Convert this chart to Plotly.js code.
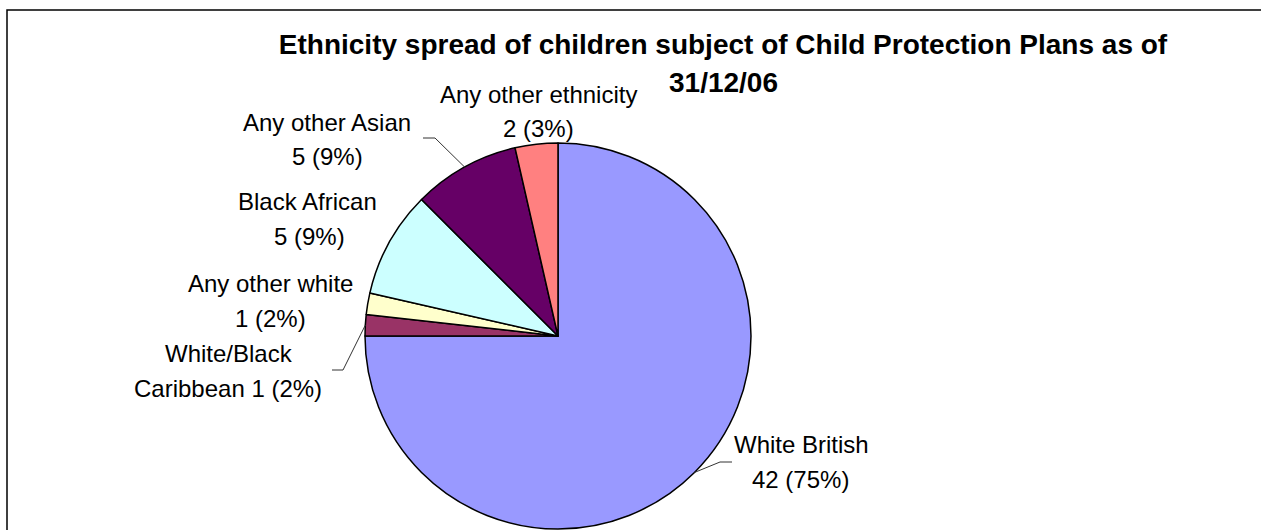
<!DOCTYPE html>
<html>
<head>
<meta charset="utf-8">
<script src="https://cdn.plot.ly/plotly-3.0.1.min.js"></script>
<style>html,body{margin:0;padding:0;background:#fff;}#chart{width:1261px;height:530px;}</style>
</head>
<body>
<div id="chart"></div>
<script>
// ---- data ----
const categories = ["White British", "White/Black Caribbean", "Any other white", "Black African", "Any other Asian", "Any other ethnicity"];
const counts = [42, 1, 1, 5, 5, 2];
const percentLabels = ["75%", "2%", "2%", "9%", "9%", "3%"];
const sliceColors = ["#9999FF", "#993366", "#FFFFCC", "#CCFFFF", "#660066", "#FF8080"];
const titleLine1 = "Ethnicity spread of children subject of Child Protection Plans as of";
const titleLine2 = "31/12/06";

// ---- layout helpers (pixels -> paper) ----
const W = 1261, H = 530;
const px = x => x / W;
const py = y => 1 - y / H;
const cx = 558, cy = 336, R = 193;
const FONT = 'Liberation Sans, Arial, sans-serif';
const LABEL_SIZE = 24, TITLE_SIZE = 28;

// label lines (display form), built from data
const labelLines = [
  [categories[0], counts[0] + " (" + percentLabels[0] + ")"],
  ["White/Black", "Caribbean " + counts[1] + " (" + percentLabels[1] + ")"],
  [categories[2], counts[2] + " (" + percentLabels[2] + ")"],
  [categories[3], counts[3] + " (" + percentLabels[3] + ")"],
  [categories[4], counts[4] + " (" + percentLabels[4] + ")"],
  [categories[5], counts[5] + " (" + percentLabels[5] + ")"]
];
// label placement: [centreX line1, baseline1, centreX line2, baseline2] (pixels)
const labelPos = [
  [801, 453, 800, 488],
  [229, 362, 228, 397],
  [270, 292, 270, 327],
  [307, 210, 309, 245],
  [327, 131, 327, 165],
  [538, 103, 538, 137]
];
// leader line elbows: index -> [elbowX, elbowY, endX]
const leaders = {0: [720, 462, 732], 1: [343, 370, 332], 4: [435, 138, 423]};

const total = counts.reduce((a, b) => a + b, 0);
const shapes = [];
shapes.push({type: 'rect', xref: 'paper', yref: 'paper', x0: px(7), x1: px(1270), y0: py(540), y1: py(10),
  line: {color: '#000', width: 1.5}, fillcolor: 'rgba(0,0,0,0)', layer: 'below'});
let cum = 0;
counts.forEach((v, i) => {
  const mid = (cum + v / 2) / total * 2 * Math.PI;
  cum += v;
  if (leaders[i]) {
    const rx = cx + R * Math.sin(mid), ry = cy - R * Math.cos(mid);
    const [ex, ey, endx] = leaders[i];
    shapes.push({type: 'path', xref: 'paper', yref: 'paper',
      path: `M ${px(rx)} ${py(ry)} L ${px(ex)} ${py(ey)} L ${px(endx)} ${py(ey)}`,
      line: {color: '#333', width: 1}});
  }
});

function textLine(text, x, baseline, size, bold) {
  return {text: bold ? '<b>' + text + '</b>' : text, xref: 'paper', yref: 'paper',
    x: px(x), y: py(baseline - 0.37 * size), xanchor: 'center', yanchor: 'middle',
    showarrow: false, font: {family: FONT, size: size, color: '#000'}};
}
const annotations = [];
labelLines.forEach((lines, i) => {
  const p = labelPos[i];
  annotations.push(textLine(lines[0], p[0], p[1], LABEL_SIZE, false));
  annotations.push(textLine(lines[1], p[2], p[3], LABEL_SIZE, false));
});
annotations.push(textLine(titleLine2, 723, 93, TITLE_SIZE, true));

const trace = {
  type: 'pie', labels: categories, values: counts, sort: false, direction: 'clockwise', rotation: 0,
  marker: {colors: sliceColors, line: {color: '#000', width: 1.5}},
  textinfo: 'none', hoverinfo: 'label+value+percent', showlegend: false,
  domain: {x: [px(cx - R), px(cx + R)], y: [py(cy + R), py(cy - R)]}
};

const layout = {
  width: W, height: H, margin: {l: 0, r: 0, t: 0, b: 0},
  paper_bgcolor: '#fff', plot_bgcolor: '#fff', showlegend: false,
  title: {text: '<b>' + titleLine1 + '</b>', x: px(723), xanchor: 'center', y: py(55 - 0.37 * TITLE_SIZE), yanchor: 'middle',
    xref: 'paper', yref: 'paper', font: {family: FONT, size: TITLE_SIZE, color: '#000'}},
  shapes: shapes, annotations: annotations
};
Plotly.newPlot('chart', [trace], layout, {displayModeBar: false, staticPlot: true});
</script>
</body>
</html>
